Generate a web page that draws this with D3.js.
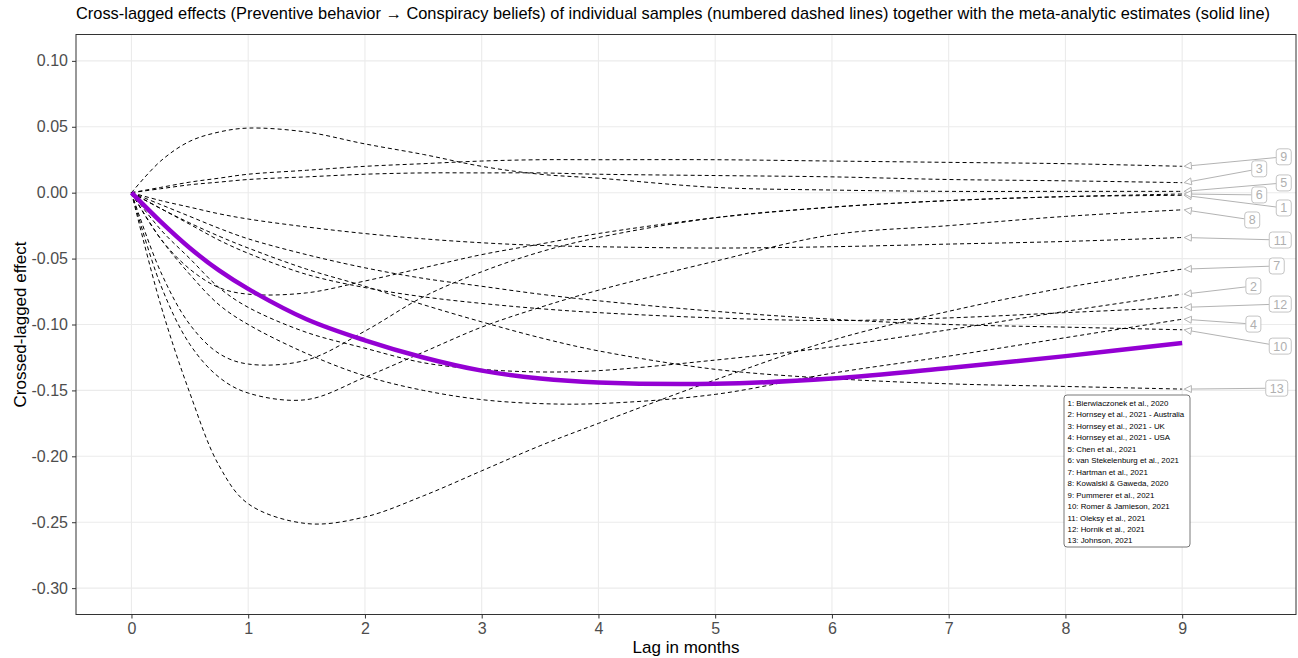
<!DOCTYPE html>
<html>
<head>
<meta charset="utf-8">
<script src="https://cdn.jsdelivr.net/npm/d3@7"></script>
<style>
  body { margin: 0; background: #fff; }
  svg text { font-family: "Liberation Sans", Arial, sans-serif; }
</style>
</head>
<body>
<script>
var lags = [0, 0.25, 0.5, 0.75, 1, 1.5, 2, 2.5, 3, 3.5, 4, 5, 6, 7, 8, 9];

// cross-lagged effects per sample
var s1  = [0, -0.060, -0.100, -0.122, -0.130, -0.127, -0.105, -0.079, -0.060, -0.045, -0.034, -0.019, -0.011, -0.006, -0.003, -0.002];
var s2  = [0, -0.028, -0.050, -0.072, -0.087, -0.106, -0.118, -0.129, -0.134, -0.136, -0.135, -0.127, -0.117, -0.104, -0.090, -0.077];
var s3  = [0, 0.003, 0.006, 0.008, 0.010, 0.012, 0.014, 0.015, 0.015, 0.015, 0.014, 0.013, 0.012, 0.010, 0.009, 0.0076];
var s4  = [0, -0.035, -0.062, -0.085, -0.100, -0.122, -0.139, -0.150, -0.157, -0.160, -0.160, -0.153, -0.137, -0.124, -0.110, -0.096];
var s5  = [0, 0.024, 0.039, 0.046, 0.049, 0.046, 0.037, 0.029, 0.020, 0.014, 0.011, 0.004, 0.002, 0.001, 0.001, 0.001];
var s6  = [0, -0.035, -0.058, -0.072, -0.077, -0.076, -0.067, -0.057, -0.047, -0.039, -0.031, -0.019, -0.011, -0.006, -0.003, -0.001];
var s7  = [0, -0.085, -0.152, -0.207, -0.236, -0.251, -0.246, -0.230, -0.211, -0.192, -0.175, -0.142, -0.112, -0.090, -0.072, -0.058];
var s8  = [0, -0.070, -0.115, -0.140, -0.152, -0.157, -0.140, -0.121, -0.102, -0.087, -0.074, -0.052, -0.032, -0.025, -0.018, -0.013];
var s9  = [0, 0.004, 0.008, 0.011, 0.014, 0.017, 0.020, 0.022, 0.024, 0.025, 0.025, 0.025, 0.024, 0.023, 0.022, 0.020];
var s10 = [0, -0.009, -0.018, -0.027, -0.035, -0.047, -0.057, -0.065, -0.071, -0.077, -0.082, -0.090, -0.096, -0.100, -0.102, -0.104];
var s11 = [0, -0.006, -0.011, -0.016, -0.020, -0.026, -0.031, -0.035, -0.038, -0.040, -0.041, -0.042, -0.041, -0.039, -0.037, -0.034];
var s12 = [0, -0.012, -0.024, -0.036, -0.046, -0.062, -0.072, -0.079, -0.084, -0.088, -0.091, -0.095, -0.097, -0.095, -0.091, -0.087];
var s13 = [0, -0.012, -0.023, -0.033, -0.042, -0.058, -0.071, -0.085, -0.098, -0.110, -0.120, -0.134, -0.141, -0.145, -0.147, -0.149];
var samples = [s1, s2, s3, s4, s5, s6, s7, s8, s9, s10, s11, s12, s13];

// meta-analytic estimate
var meta = [0, -0.022, -0.042, -0.059, -0.073, -0.096, -0.112, -0.125, -0.135, -0.141, -0.144, -0.145, -0.141, -0.133, -0.124, -0.114];

var sampleNames = [
  "Bierwiaczonek et al., 2020",
  "Hornsey et al., 2021 - Australia",
  "Hornsey et al., 2021 - UK",
  "Hornsey et al., 2021 - USA",
  "Chen et al., 2021",
  "van Stekelenburg et al., 2021",
  "Hartman et al., 2021",
  "Kowalski & Gaweda, 2020",
  "Pummerer et al., 2021",
  "Romer & Jamieson, 2021",
  "Oleksy et al., 2021",
  "Hornik et al., 2021",
  "Johnson, 2021"
];

// where the repelled number labels sit (in data units)
var labelLag   = [9.87, 9.61, 9.66, 9.61, 9.87, 9.66, 9.81, 9.60, 9.87, 9.84, 9.84, 9.84, 9.81];
var labelValue = [-0.0116, -0.0708, 0.0181, -0.0997, 0.0074, -0.0017, -0.0556, -0.0207, 0.0272, -0.1164, -0.0359, -0.0845, -0.1483];

var xTicks = [0, 1, 2, 3, 4, 5, 6, 7, 8, 9];
var yTicks = [0.10, 0.05, 0.00, -0.05, -0.10, -0.15, -0.20, -0.25, -0.30];

var W = 1298, H = 658;
var m = {left: 76, right: 2, top: 34.5, bottom: 43.5};

var svg = d3.select("body").append("svg").attr("width", W).attr("height", H);

var x = d3.scaleLinear().domain([-0.475, 9.975]).range([m.left, W - m.right]);
var y = d3.scaleLinear().domain([-0.32, 0.12]).range([H - m.bottom, m.top]);

// grid
svg.append("g").selectAll("line").data(xTicks).enter().append("line")
  .attr("x1", function(d){ return x(d); }).attr("x2", function(d){ return x(d); })
  .attr("y1", m.top).attr("y2", H - m.bottom)
  .attr("stroke", "#ebebeb").attr("stroke-width", 1.1);
svg.append("g").selectAll("line").data(yTicks).enter().append("line")
  .attr("y1", function(d){ return y(d); }).attr("y2", function(d){ return y(d); })
  .attr("x1", m.left).attr("x2", W - m.right)
  .attr("stroke", "#ebebeb").attr("stroke-width", 1.1);

var line = d3.line()
  .x(function(d, i){ return x(lags[i]); })
  .y(function(d){ return y(d); })
  .curve(d3.curveCatmullRom.alpha(0.5));

// sample curves
svg.append("g").selectAll("path").data(samples).enter().append("path")
  .attr("d", line)
  .attr("fill", "none")
  .attr("stroke", "#000")
  .attr("stroke-width", 1)
  .attr("stroke-dasharray", "4,3");

// meta-analytic curve
svg.append("path").datum(meta)
  .attr("d", line)
  .attr("fill", "none")
  .attr("stroke", "#9400D3")
  .attr("stroke-width", 4.5);

// number labels with arrows
var lab = svg.append("g");
samples.forEach(function(s, i) {
  var txt = String(i + 1);
  var bw = txt.length > 1 ? 22 : 15, bh = 16;
  var cx = x(labelLag[i]), cy = y(labelValue[i]);
  var tx = x(9) + 2, ty = y(s[s.length - 1]);
  // point on box edge toward the tip
  var dx = tx - cx, dy = ty - cy;
  var t = Math.min(Math.abs((bw / 2) / dx), dy === 0 ? Infinity : Math.abs((bh / 2) / dy));
  var sx = cx + dx * t, sy = cy + dy * t;
  var ang = Math.atan2(sy - ty, sx - tx);
  var al = 8, aw = 0.45;
  lab.append("line")
    .attr("x1", sx).attr("y1", sy).attr("x2", tx + Math.cos(ang) * al * 0.9).attr("y2", ty + Math.sin(ang) * al * 0.9)
    .attr("stroke", "#b3b3b3").attr("stroke-width", 1);
  var p1 = [tx + Math.cos(ang + aw) * al, ty + Math.sin(ang + aw) * al];
  var p2 = [tx + Math.cos(ang - aw) * al, ty + Math.sin(ang - aw) * al];
  lab.append("path")
    .attr("d", "M" + tx + "," + ty + "L" + p1 + "L" + p2 + "Z")
    .attr("fill", "#fff").attr("stroke", "#b3b3b3").attr("stroke-width", 1);
  lab.append("rect")
    .attr("x", cx - bw / 2).attr("y", cy - bh / 2).attr("width", bw).attr("height", bh)
    .attr("rx", 3).attr("fill", "#fff").attr("stroke", "#c4c4c4").attr("stroke-width", 1);
  lab.append("text")
    .attr("x", cx).attr("y", cy + 4.5).attr("text-anchor", "middle")
    .attr("font-size", 12.5).attr("fill", "#b0b0b0").text(txt);
});

// legend box
var lg = svg.append("g");
lg.append("rect").attr("x", 1064).attr("y", 395).attr("width", 126).attr("height", 152)
  .attr("rx", 3).attr("fill", "#fff").attr("stroke", "#555").attr("stroke-width", 0.8);
lg.selectAll("text").data(sampleNames).enter().append("text")
  .attr("x", 1067.5)
  .attr("y", function(d, i){ return 406 + i * 11.45; })
  .attr("font-size", 7.9).attr("fill", "#000")
  .text(function(d, i){ return (i + 1) + ": " + d; });

// panel border
svg.append("rect").attr("x", m.left).attr("y", m.top)
  .attr("width", W - m.right - m.left).attr("height", H - m.bottom - m.top)
  .attr("fill", "none").attr("stroke", "#333").attr("stroke-width", 1);

// axes
var fmt2 = d3.format(".2f");
var xAxis = svg.append("g").attr("transform", "translate(0," + (H - m.bottom) + ")")
  .call(d3.axisBottom(x).tickValues(xTicks).tickSize(4).tickPadding(4).tickFormat(d3.format("d")));
var yAxis = svg.append("g").attr("transform", "translate(" + m.left + ",0)")
  .call(d3.axisLeft(y).tickValues(yTicks).tickSize(4).tickPadding(4)
    .tickFormat(function(d){ return fmt2(d).replace("\u2212", "-"); }));
[xAxis, yAxis].forEach(function(a) {
  a.select(".domain").remove();
  a.selectAll(".tick line").attr("stroke", "#333");
  a.selectAll(".tick text").attr("fill", "#4d4d4d").attr("font-size", 16)
    .attr("font-family", "Liberation Sans, Arial, sans-serif");
});

svg.append("text").attr("x", (m.left + W - m.right) / 2).attr("y", 653)
  .attr("text-anchor", "middle").attr("font-size", 17).text("Lag in months");
svg.append("text").attr("transform", "translate(26," + ((m.top + H - m.bottom) / 2) + ") rotate(-90)")
  .attr("text-anchor", "middle").attr("font-size", 17).text("Crossed-lagged effect");
svg.append("text").attr("x", m.left).attr("y", 19).attr("font-size", 16.4)
  .text("Cross-lagged effects (Preventive behavior \u2192 Conspiracy beliefs) of individual samples (numbered dashed lines) together with the meta-analytic estimates (solid line)");
</script>
</body>
</html>
